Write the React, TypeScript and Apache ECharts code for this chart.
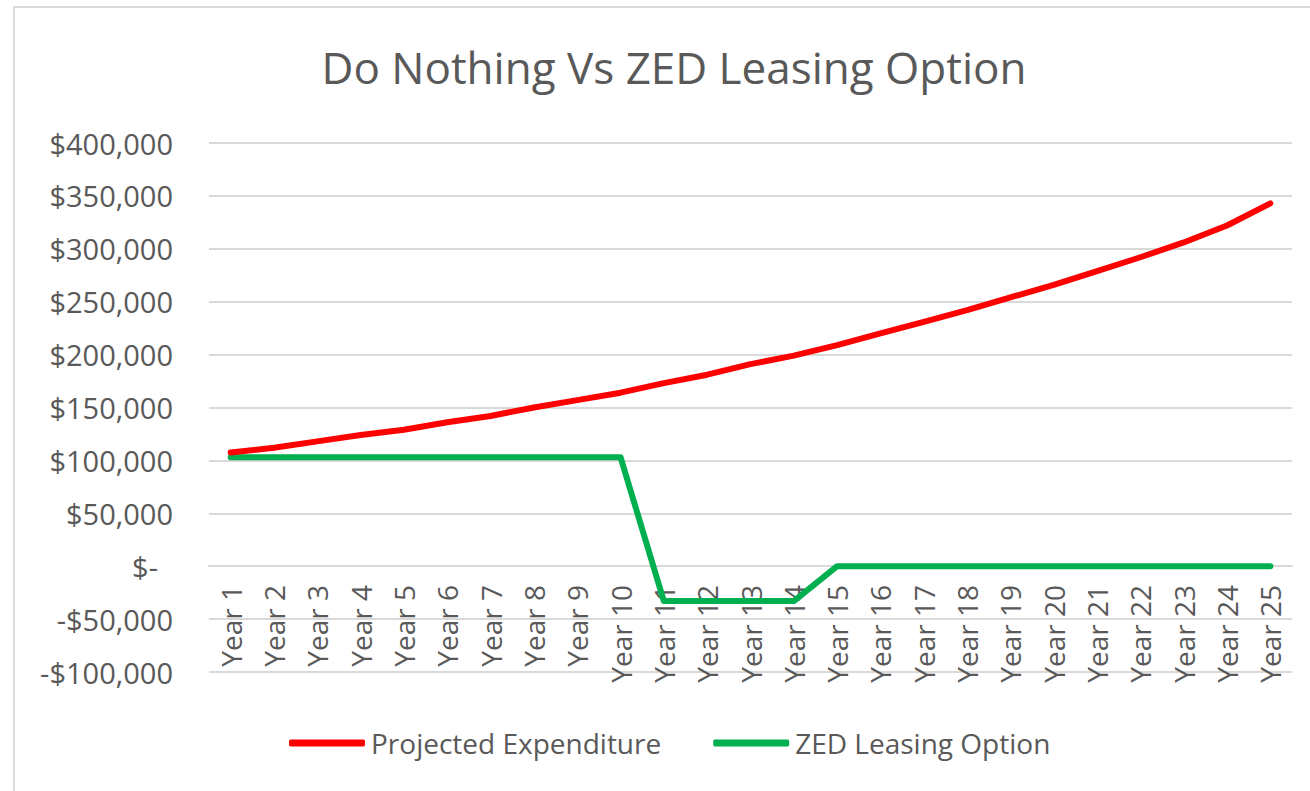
import React, { useEffect, useRef } from "react";
import * as echarts from "echarts";

const years: string[] = Array.from({ length: 25 }, (_, i) => `Year ${i + 1}`);
const projectedExpenditure: number[] = [
  107500, 112000, 118000, 124000, 129000, 136000, 142000, 150000, 157000, 164000,
  173000, 181000, 191000, 199000, 209000, 220000, 231000, 242000, 254000, 266000,
  279000, 292000, 306000, 322000, 343000,
];
const zedLeasing: number[] = [
  103000, 103000, 103000, 103000, 103000, 103000, 103000, 103000, 103000, 103000,
  -33000, -33000, -33000, -33000, 0, 0, 0, 0, 0, 0,
  0, 0, 0, 0, 0,
];
const yMin = -100000;
const yMax = 400000;
const yStep = 50000;

const FONT = "'Open Sans', 'Noto Sans', sans-serif";
const GRAY = "#595959";

const GRID_TOP = 143;
const GRID_BOTTOM = 119;
const CHART_H = 791;

function fmt(v: number): string {
  if (v === 0) return "{z|$-}";
  const s = Math.abs(v).toLocaleString("en-US");
  return v < 0 ? `-$${s}` : `$${s}`;
}

export default function App() {
  const ref = useRef<HTMLDivElement>(null);
  useEffect(() => {
    document.body.style.margin = "0";
    const chart = echarts.init(ref.current!, undefined, { renderer: "svg" });
    const plotH = CHART_H - GRID_TOP - GRID_BOTTOM;
    const zeroOffset = -Math.round((plotH * (0 - yMin)) / (yMax - yMin));
    chart.setOption({
      animation: false,
      backgroundColor: "#ffffff",
      title: {
        text: "Do Nothing Vs ZED Leasing Option",
        left: 669,
        top: 40,
        textAlign: "center",
        textStyle: { fontFamily: FONT, fontSize: 44, fontWeight: "normal", color: GRAY },
      },
      graphic: [
        {
          type: "rect",
          shape: { x: 14, y: 7, width: 1320, height: 820 },
          style: { fill: "none", stroke: "#D9D9D9", lineWidth: 2 },
          silent: true,
        },
      ],
      legend: {
        top: 724,
        left: 284,
        itemWidth: 76,
        itemHeight: 7,
        itemGap: 52,
        icon: "roundRect",
        textStyle: { fontFamily: FONT, fontSize: 28, color: GRAY, padding: [0, 0, 0, 1] },
        data: ["Projected Expenditure", "ZED Leasing Option"],
      },
      grid: { left: 209, right: 18, top: GRID_TOP, bottom: GRID_BOTTOM, containLabel: false },
      xAxis: {
        type: "category",
        data: years,
        boundaryGap: true,
        offset: zeroOffset,
        axisLine: { show: true, onZero: false, lineStyle: { color: "#D9D9D9", width: 2 } },
        axisTick: { show: false },
        axisLabel: {
          rotate: 90,
          interval: 0,
          margin: 19,
          fontFamily: FONT,
          fontSize: 28,
          color: GRAY,
        },
      },
      yAxis: {
        type: "value",
        min: yMin,
        max: yMax,
        interval: yStep,
        axisLine: { show: false },
        axisTick: { show: false },
        splitLine: { lineStyle: { color: "#D9D9D9", width: 2 } },
        axisLabel: {
          margin: 36,
          fontFamily: FONT,
          fontSize: 29,
          color: GRAY,
          formatter: fmt,
          rich: { z: { fontFamily: FONT, fontSize: 29, color: GRAY, padding: [0, 15, 0, 0] } },
        },
      },
      series: [
        {
          name: "Projected Expenditure",
          type: "line",
          data: projectedExpenditure,
          symbol: "none",
          color: "#FF0000",
          lineStyle: { color: "#FF0000", width: 6, cap: "round", join: "round" },
          z: 3,
        },
        {
          name: "ZED Leasing Option",
          type: "line",
          data: zedLeasing,
          symbol: "none",
          color: "#00B050",
          lineStyle: { color: "#00B050", width: 6, cap: "round", join: "round" },
          z: 2,
        },
      ],
    });
    return () => chart.dispose();
  }, []);
  return (
    <div
      ref={ref}
      style={{ position: "absolute", left: 0, top: 0, width: 1310, height: 791 }}
    />
  );
}
